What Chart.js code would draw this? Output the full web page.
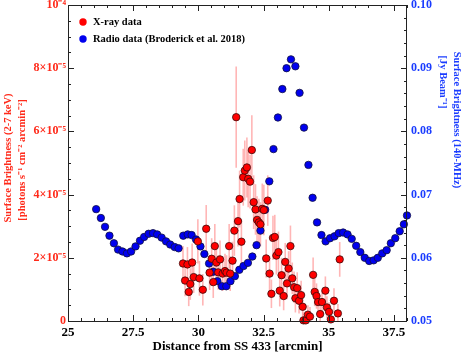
<!DOCTYPE html>
<html>
<head>
<meta charset="utf-8">
<script src="https://cdn.jsdelivr.net/npm/chart.js@4.4.0/dist/chart.umd.min.js"></script>
<style>
  html, body { margin: 0; padding: 0; background: #fff; }
  #wrap { width: 463px; height: 354px; }
</style>
</head>
<body>
<div id="wrap"><canvas id="sbChart" width="463" height="354"></canvas></div>
<script>
// X-ray surface brightness, in units of 1e-5 photons s-1 cm-2 arcmin-2
var xrayDist = [29.41, 29.49, 29.58, 29.63, 29.69, 29.76, 29.82, 29.98, 30.04, 30.17,
                30.30, 30.43, 30.51, 30.57, 30.63, 30.69, 30.76, 30.83, 30.93, 31.02,
                31.08, 31.18, 31.22, 31.31, 31.38, 31.45, 31.52, 31.58, 31.65, 31.72,
                31.78, 31.86, 31.91, 31.98, 32.05, 32.12, 32.19, 32.25, 32.32, 32.38,
                32.45, 32.51, 32.60, 32.66, 32.73, 32.80, 32.86, 32.93, 32.99, 33.07,
                33.12, 33.19, 33.27, 33.33, 33.40, 33.46, 33.53, 33.60, 33.67, 33.72,
                33.79, 33.86, 33.94, 34.00, 34.03, 34.12, 34.20, 34.28, 34.40, 34.46,
                34.53, 34.59, 34.67, 34.74, 34.87, 34.93, 35.01, 35.08, 35.20, 35.35,
                35.42];
var xraySB = [1.82, 1.28, 1.79, 0.92, 1.17, 1.85, 1.39, 2.52, 1.35, 0.99,
              2.92, 1.53, 1.97, 1.23, 2.37, 1.85, 1.54, 1.95, 1.50, 1.58,
              1.53, 2.37, 1.50, 1.91, 2.86, 6.45, 3.16, 3.86, 2.51, 4.55,
              4.76, 4.86, 4.50, 4.41, 5.41, 3.76, 3.53, 3.20, 3.12, 3.06,
              3.55, 3.51, 1.98, 3.81, 1.50, 0.86, 2.63, 2.66, 2.07, 2.18,
              0.96, 1.45, 0.79, 1.87, 1.19, 1.66, 2.37, 1.35, 1.07, 0.72,
              1.04, 0.64, 0.82, 0.45, 0.02, 0.02, 0.20, 0.14, 1.46, 0.92,
              0.79, 0.60, 0.22, 0.60, 0.96, 0.43, 0.29, 0.05, 0.64, 0.24,
              1.95];
var xrayErr = [0.55, 0.50, 0.55, 0.45, 0.50, 0.60, 0.50, 0.70, 0.55, 0.50,
               0.75, 0.55, 0.65, 0.50, 0.70, 0.60, 0.55, 0.60, 0.55, 0.55,
               0.55, 0.70, 0.55, 0.60, 0.80, 1.60, 0.80, 0.90, 0.70, 0.90,
               0.95, 0.95, 0.90, 0.85, 1.10, 0.85, 0.80, 0.75, 0.75, 0.70,
               0.80, 0.80, 0.60, 0.80, 0.55, 0.45, 0.70, 0.70, 0.60, 0.65,
               0.50, 0.55, 0.45, 0.60, 0.50, 0.55, 0.65, 0.50, 0.50, 0.45,
               0.50, 0.40, 0.45, 0.35, 0.25, 0.25, 0.30, 0.30, 0.55, 0.45,
               0.40, 0.40, 0.30, 0.35, 0.45, 0.35, 0.30, 0.25, 0.40, 0.30,
               0.55];

// Radio (140 MHz) surface brightness, Jy/beam
var radioDist = [26.08, 26.26, 26.42, 26.59, 26.76, 26.92, 27.09, 27.26, 27.42, 27.59,
                 27.76, 27.92, 28.09, 28.26, 28.42, 28.59, 28.76, 28.92, 29.09, 29.24,
                 29.42, 29.59, 29.74, 29.91, 30.08, 30.23, 30.41, 30.57, 30.73, 30.90,
                 31.07, 31.23, 31.40, 31.57, 31.73, 31.90, 32.07, 32.23, 32.38, 32.56,
                 32.72, 32.88, 33.05, 33.22, 33.38, 33.55, 33.72, 33.88, 34.05, 34.22,
                 34.38, 34.55, 34.72, 34.88, 35.05, 35.22, 35.38, 35.55, 35.72, 35.88,
                 36.05, 36.21, 36.38, 36.55, 36.72, 36.88, 37.05, 37.22, 37.38, 37.55,
                 37.72, 37.88, 38.00];
var radioSB = [0.0677, 0.0663, 0.0649, 0.0635, 0.0623, 0.0613, 0.0610, 0.0607, 0.0610, 0.0618,
               0.0627, 0.0633, 0.0638, 0.0639, 0.0637, 0.0632, 0.0626, 0.0621, 0.0617, 0.0615,
               0.0635, 0.0637, 0.0636, 0.0629, 0.0618, 0.0606, 0.0591, 0.0578, 0.0563, 0.0555,
               0.0555, 0.0563, 0.0571, 0.0581, 0.0587, 0.0592, 0.0602, 0.0620, 0.0643, 0.0676,
               0.0721, 0.0772, 0.0822, 0.0867, 0.0900, 0.0914, 0.0903, 0.0861, 0.0806, 0.0747,
               0.0695, 0.0656, 0.0636, 0.0626, 0.0631, 0.0634, 0.0639, 0.0640, 0.0637, 0.0630,
               0.0619, 0.0609, 0.0600, 0.0595, 0.0596, 0.0600, 0.0607, 0.0612, 0.0623, 0.0631,
               0.0642, 0.0653, 0.0667];

var xTickLabels = ['25', '27.5', '30', '32.5', '35', '37.5'];

var serif = 'Liberation Serif, Times New Roman, serif';
var redText = '#ff2a1a';
var blueText = '#1a3cff';

var xrayPts = xrayDist.map(function(d, i) { return {x: d, y: xraySB[i]}; });
var radioPts = radioDist.map(function(d, i) { return {x: d, y: radioSB[i]}; });

// error bars, drawn under the points
var errorBars = {
  id: 'errorBars',
  beforeDatasetsDraw: function(chart) {
    var ctx = chart.ctx, xs = chart.scales.x, ys = chart.scales.y, a = chart.chartArea;
    ctx.save();
    ctx.beginPath();
    ctx.rect(a.left, a.top, a.right - a.left, a.bottom - a.top);
    ctx.clip();
    ctx.strokeStyle = 'rgba(255, 80, 80, 0.42)';
    ctx.lineWidth = 1.6;
    for (var i = 0; i < xrayDist.length; i++) {
      var px = xs.getPixelForValue(xrayDist[i]);
      ctx.beginPath();
      ctx.moveTo(px, ys.getPixelForValue(xraySB[i] - xrayErr[i]));
      ctx.lineTo(px, ys.getPixelForValue(xraySB[i] + xrayErr[i]));
      ctx.stroke();
    }
    ctx.restore();
  }
};

// frame, inward ticks, y titles and legend
var frameDeco = {
  id: 'frameDeco',
  afterDraw: function(chart) {
    var ctx = chart.ctx, a = chart.chartArea;
    var xs = chart.scales.x, ys = chart.scales.y, y1 = chart.scales.y1;
    ctx.save();
    ctx.strokeStyle = '#222';
    ctx.lineWidth = 1;
    ctx.strokeRect(Math.round(a.left) + 0.5, Math.round(a.top) + 0.5,
                   Math.round(a.right - a.left) - 1, Math.round(a.bottom - a.top));
    ctx.beginPath();
    var v, p, len;
    for (v = 250; v <= 380; v += 5) {
      p = Math.round(xs.getPixelForValue(v / 10)) + 0.5;
      len = (v % 25 === 0) ? 6 : 3;
      ctx.moveTo(p, a.bottom); ctx.lineTo(p, a.bottom - len);
      ctx.moveTo(p, a.top); ctx.lineTo(p, a.top + len);
    }
    for (v = 0; v <= 20; v++) {
      p = Math.round(ys.getPixelForValue(v / 2)) + 0.5;
      len = (v % 4 === 0) ? 6 : 3;
      ctx.moveTo(a.left, p); ctx.lineTo(a.left + len, p);
    }
    for (v = 50; v <= 100; v += 2) {
      p = Math.round(y1.getPixelForValue(v / 1000)) + 0.5;
      len = (v % 10 === 0) ? 6 : 3;
      ctx.moveTo(a.right, p); ctx.lineTo(a.right - len, p);
    }
    ctx.stroke();

    // y axis titles
    ctx.font = 'bold 10.5px ' + serif;
    ctx.textAlign = 'center';
    ctx.textBaseline = 'middle';
    ctx.fillStyle = redText;
    ctx.save();
    ctx.translate(8, 158); ctx.rotate(-Math.PI / 2);
    ctx.fillText('Surface Brightness (2-7 keV)', 0, 0);
    ctx.restore();
    ctx.save();
    ctx.translate(22, 160); ctx.rotate(-Math.PI / 2);
    ctx.fillText('[photons s\u207B\u00B9 cm\u207B\u00B2 arcmin\u207B\u00B2]', 0, 0);
    ctx.restore();
    ctx.fillStyle = blueText;
    ctx.save();
    ctx.translate(457, 120); ctx.rotate(Math.PI / 2);
    ctx.fillText('Surface Brightness (140-MHz)', 0, 0);
    ctx.restore();
    ctx.save();
    ctx.translate(443, 82); ctx.rotate(Math.PI / 2);
    ctx.fillText('[Jy Beam\u207B\u00B9]', 0, 0);
    ctx.restore();

    // legend
    var items = [
      {t: 'X-ray data', c: '#ff0000', y: 22},
      {t: 'Radio data (Broderick et al. 2018)', c: '#0000ee', y: 39}
    ];
    ctx.textAlign = 'left';
    ctx.font = 'bold 10.5px ' + serif;
    items.forEach(function(it) {
      ctx.beginPath();
      ctx.arc(83, it.y, 3.7, 0, Math.PI * 2);
      ctx.fillStyle = it.c;
      ctx.fill();
      ctx.fillStyle = '#000';
      ctx.fillText(it.t, 93, it.y);
    });
    ctx.restore();
  }
};

var ctx = document.getElementById('sbChart');
var sbChart = new Chart(ctx, {
  type: 'scatter',
  data: {
    datasets: [
      {
        label: 'X-ray data',
        data: xrayPts,
        yAxisID: 'y',
        pointRadius: 3.7,
        pointBackgroundColor: '#ff0000',
        pointBorderColor: '#3a0a0a',
        pointBorderWidth: 0.8
      },
      {
        label: 'Radio data (Broderick et al. 2018)',
        data: radioPts,
        yAxisID: 'y1',
        pointRadius: 3.7,
        pointBackgroundColor: '#0000ee',
        pointBorderColor: '#101040',
        pointBorderWidth: 0.8
      }
    ]
  },
  options: {
    responsive: false,
    animation: false,
    clip: false,
    layout: { padding: { top: 5, left: 0, right: 0, bottom: 0 } },
    plugins: { legend: { display: false }, tooltip: { enabled: false } },
    scales: {
      x: {
        type: 'linear', position: 'bottom', min: 25, max: 38,
        grid: { display: false, drawTicks: false },
        border: { display: false },
        ticks: {
          stepSize: 2.5, includeBounds: false, autoSkip: false, maxRotation: 0, padding: 4,
          color: '#000', font: { family: serif, weight: 'bold', size: 13 },
          callback: function(v) { return xTickLabels[Math.round((v - 25) / 2.5)]; }
        },
        title: {
          display: true, text: 'Distance from SS 433 [arcmin]', color: '#000',
          font: { family: serif, weight: 'bold', size: 13 }, padding: { top: 0, bottom: 0 }
        },
        afterFit: function(s) { s.height = 33; s.paddingLeft = 0; s.paddingRight = 0; }
      },
      y: {
        type: 'linear', position: 'left', min: 0, max: 10,
        grid: { display: false, drawTicks: false },
        border: { display: false },
        ticks: {
          stepSize: 2, padding: 2, color: redText,
          font: { family: serif, weight: 'bold', size: 12 },
          callback: function(v) {
            if (v === 0) return '0';
            if (v === 10) return '10\u207B\u2074';
            return v + '\u00D710\u207B\u2075';
          }
        },
        afterFit: function(s) { s.width = 68; s.paddingTop = 0; s.paddingBottom = 0; }
      },
      y1: {
        type: 'linear', position: 'right', min: 0.05, max: 0.10,
        grid: { display: false, drawTicks: false },
        border: { display: false },
        ticks: {
          stepSize: 0.01, padding: 4, color: blueText,
          font: { family: serif, weight: 'bold', size: 12 },
          callback: function(v) { return v.toFixed(2); }
        },
        afterFit: function(s) { s.width = 56; s.paddingTop = 0; s.paddingBottom = 0; }
      }
    }
  },
  plugins: [errorBars, frameDeco]
});
</script>
</body>
</html>
